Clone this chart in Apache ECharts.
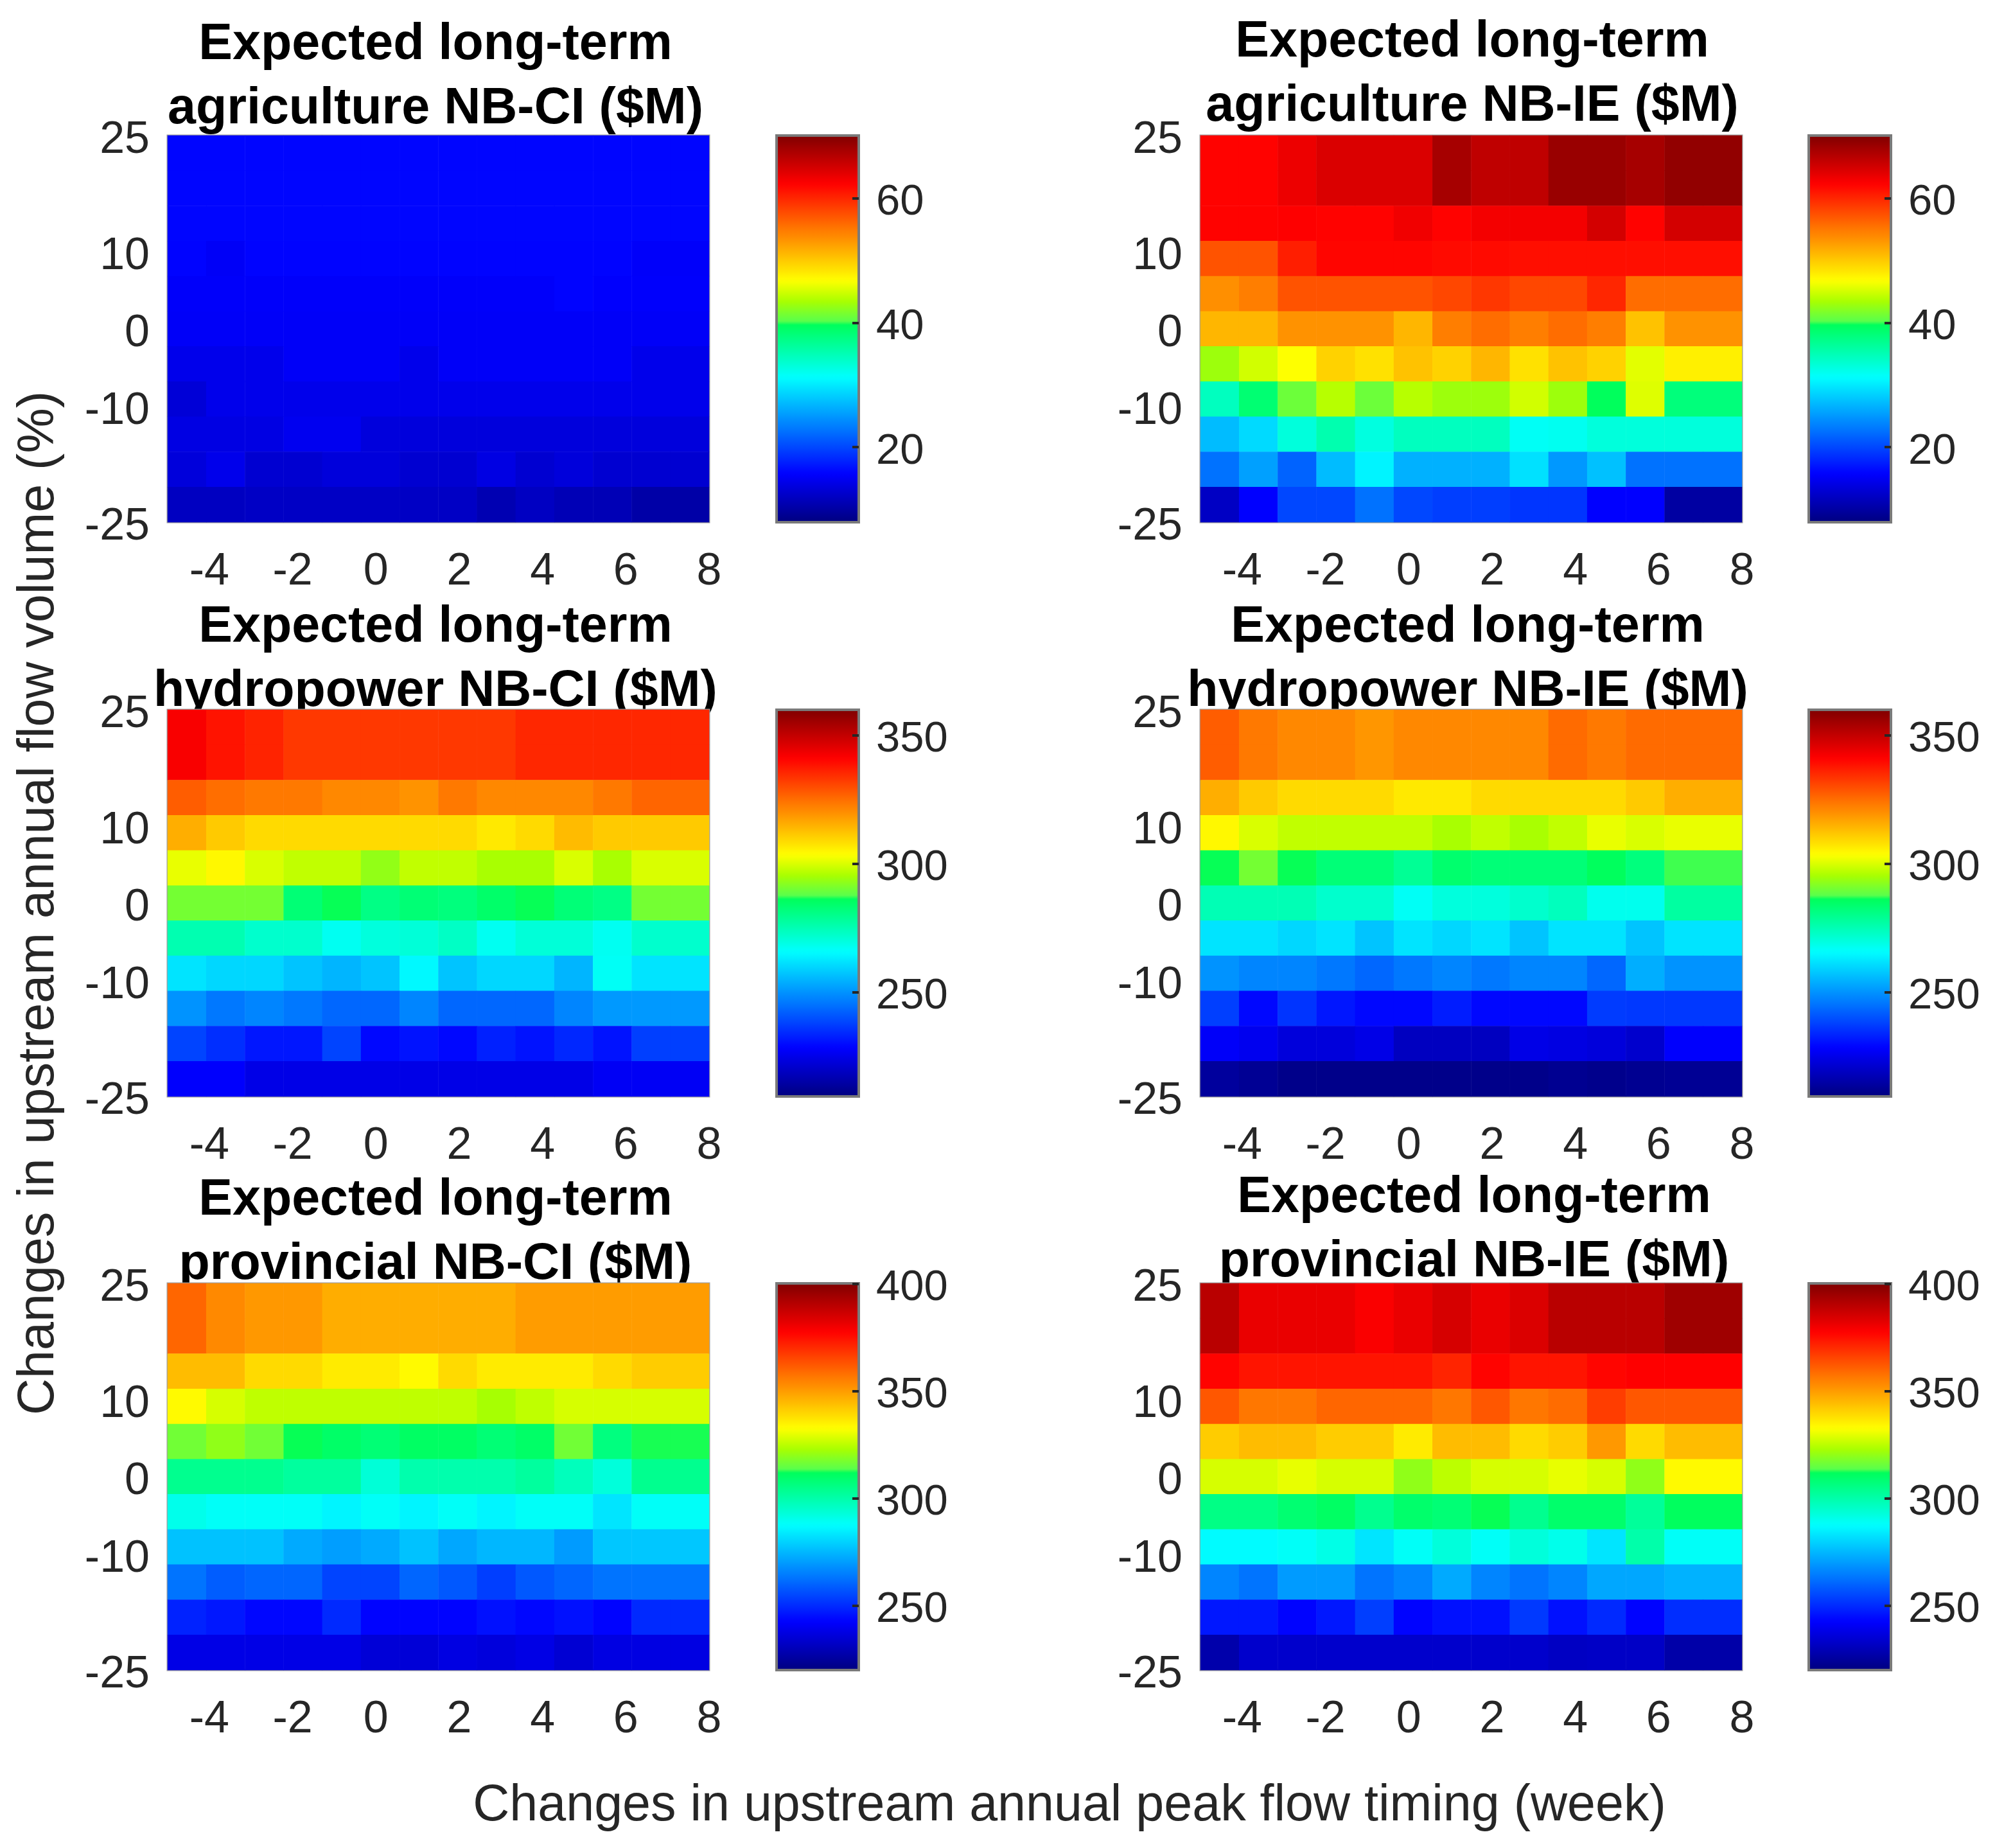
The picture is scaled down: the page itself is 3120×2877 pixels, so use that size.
<!DOCTYPE html>
<html>
<head>
<meta charset="utf-8">
<style>html,body{margin:0;padding:0;background:#fff}#c{width:3120px;height:2877px}</style>
<script src="https://cdn.jsdelivr.net/npm/echarts@6/dist/echarts.min.js"></script>
</head>
<body>
<div id="c"></div>
<script>
// Each matrix: rows from top (flow +25) to bottom (flow -25), columns from left to right.
const agricultureCI = [
[16,16,16,16,16,16,16,16,16,16,16,16,16],
[16,16,16,16,16,16,16,16,16,16,16,16,16],
[15.9,15.2,15.9,15.9,15.9,15.9,15.9,15.9,15.9,15.9,15.9,15.9,15.4],
[15.4,15.4,15.4,15.4,15.4,15.4,15.4,15.4,15.4,15.4,15.9,15.6,15.5],
[15.3,15.3,15.3,15.3,15.3,15.3,15.3,15.3,15.3,15.3,15.3,15.3,15.3],
[14.5,14.5,14.5,15.3,15.3,15.3,14.5,15.3,15.3,15.3,15.3,15.3,14.5],
[13.3,14.5,14.5,14.5,14.5,14.5,14.5,14.5,14.5,14.5,14.5,14.5,14.5],
[14,14,14,14.8,14.8,13.6,13.6,13.6,13.6,13.6,13.6,13.6,13.6],
[13.5,14.5,12.9,12.9,13.5,13.5,12.9,12.9,14,12.9,13.5,12.9,12.9],
[11.9,11.9,12.2,12.2,12.2,12.2,12.2,12.2,11,12,11.2,11.2,10.3]
];
const agricultureIE = [
[62.2,62.2,63.4,64.6,64.6,64.6,67.8,66.3,66.3,68.6,68.6,67.8,69],
[62.2,62.2,62.4,62.2,62.2,63.2,62.2,63,63,63,65,62.2,65],
[57.3,57.3,60.5,62,62,62,61.7,61.7,61.5,61.5,61.5,61.5,61.5],
[53.6,54.7,57.3,57.3,57.3,57.3,58,59,58,58,60,55.7,55.7],
[51.2,51.2,53.4,53.4,53.4,51.2,54.7,55.7,54.7,55.7,54.7,50.5,53.4],
[43,45,46.75,49.5,48.6,50.5,49.5,51.2,48.6,50.5,49.5,45.7,47.7],
[34.5,38.5,41,44,41,44,43,43,45,43,39.6,45.5,38],
[27.2,29,33,35.3,32.8,34.5,34.5,34.5,31.7,32,33,33,33],
[22.6,25.5,21.7,27.2,30.6,26.5,26.5,26.5,29.4,25,27.5,22.6,22.6],
[12.1,15.7,20,20,22.6,20,19.5,19.5,18.9,18.9,15.7,15.7,10]
];
const hydropowerCI = [
[342,338.4,336,333,333,333,333,333,333,335.4,335.4,335.4,335.4],
[327.5,325,323.4,323.4,321,321,319.5,323.4,321,321,321,323.4,326.4],
[315.5,311.3,309,309,309,309,309,309,306.8,309,313.6,311.3,311.3],
[301.5,304.6,300,297.8,297.8,293.3,297.8,297.8,295.5,295.5,300,295.5,300],
[290.3,290.3,290.3,283,287,281,283,282,284.5,287,282.7,281,290.3],
[275.5,275.5,272,272,267.5,270,270.7,273,267.5,270.7,270.7,267.5,272],
[262,260,260,257.2,255,257.2,265,257.2,260,260,255,267,262],
[250,246,248,246,243.5,243.5,248,243.5,243.5,243.5,248,251,251],
[238.3,235,231.6,231.6,238.3,229.3,231,229.3,233,231,234,231,237.5],
[228,228,224.8,224.8,224.8,224.8,224.8,224.8,224.8,224.8,224.8,226.8,226.8]
];
const hydropowerIE = [
[327.5,323.4,321,321,319,321,321,321,321,325.5,323.4,325.5,325.5],
[315.5,311.3,309,309,309,306.8,306.8,309,309,309,309,311.3,315.5],
[304.6,300,297.8,297.8,297.8,297.8,295.5,297.8,295.5,297.8,301.5,300,301.5],
[287,290.3,287,282.7,282.7,279,284,282.7,282.7,282.7,286,282,287.5],
[275,275,275,272,272,267,270,270,272,274,268,268,277.5],
[262,262,260,262,257.2,262,260,262,257.2,262,262,257.2,262],
[250,248,248,246,243.5,246,248,246,248,248,243.5,254,250],
[237.5,229.3,236,231.6,229.3,229.3,232.5,229.3,229.3,229.3,237,236.5,236.5],
[227.5,226,223,223,224.8,219,219,219,224.8,224,223,221,228],
[213.7,212.5,211,211,211,211,211,211,211,212,211.3,212,212.5]
];
const provincialCI = [
[359.6,353.3,350.6,350.6,347,347,347,347,347,350,350,350,350],
[344.3,344.3,339,339,336,336,333.5,339,336,336,336,339,341.6],
[333.5,328,325.4,325.4,325.4,325.4,325.4,325.4,322.7,325.4,328,328,328],
[316.4,320,316.4,312.8,310,308,310.8,310.8,308,310,316.4,306.5,313],
[304,304,304,301.8,301.8,293.5,299.5,299.5,299.5,301.8,297.4,292.8,304],
[290.5,288.5,288.5,288.5,285.8,288.5,285.8,288.5,285.8,288.5,288.5,283,288.5],
[276.8,276.8,276.8,272.5,270.5,272.5,276.8,272,274.8,274.8,270,277.7,277.7],
[263,258.8,260.5,260.5,254.5,254.5,260.5,258,253.4,258,260.5,263,263],
[248.5,246.5,243.5,243.5,249.8,243,243,243,245.3,243.5,245.3,243,249.8],
[238.2,238.2,238.2,238.2,238.2,235.5,235.5,237.4,236.3,238,234.8,237.4,237.4]
];
const provincialIE = [
[390,381.2,381.2,381.2,378.5,381.2,384.8,381.2,384,390,390,390,394.7],
[377,374,374,374,374,374,371.3,377,374,374,376.7,377.7,377.7],
[362.3,356.6,356.6,359.6,359.6,359.6,356.6,362.3,356.6,358.6,366.8,362.3,362.3],
[341.6,344.3,344.3,341.6,341.6,336,344.3,344.3,339,341.6,350.6,339,344.3],
[328,328,330,328,328,320,325,328,328,330,328,320,333.5],
[305.6,305.6,308.6,310.8,304,309.5,308,312.8,304,309.5,309.5,302.5,311.5],
[287,287,288.5,291,283,288.5,292.8,288.5,292.8,290.5,283,300,288.5],
[266,263,270,270,263,266,272.5,266,263,266,272,272,274],
[246.5,246.5,243,246.5,253.4,243,245.3,245.3,252.5,245.3,249.8,243,250.5],
[227.5,233.5,233.5,233.5,233.5,233.5,233.5,233.5,233.5,232,232.5,232.5,227]
];
const panelTitles = [
  'Expected long-term\nagriculture NB-CI ($M)','Expected long-term\nagriculture NB-IE ($M)',
  'Expected long-term\nhydropower NB-CI ($M)','Expected long-term\nhydropower NB-IE ($M)',
  'Expected long-term\nprovincial NB-CI ($M)','Expected long-term\nprovincial NB-IE ($M)'
];
const panelData = [agricultureCI,agricultureIE,hydropowerCI,hydropowerIE,provincialCI,provincialIE];
const colorRanges = [[7.94,70.1],[7.94,70.1],[209.5,360],[209.5,360],[220,400.1],[220,400.1]];
const colorbarTicks = [[20,40,60],[20,40,60],[250,300,350],[250,300,350],[250,300,350,400],[250,300,350,400]];
const xTickValues = [-4,-2,0,2,4,6,8];
const yTickValues = [-25,-10,0,10,25];
const xAxisName = 'Changes in upstream annual peak flow timing (week)';
const yAxisName = 'Changes in upstream annual flow volume (%)';
// Colormap anchors: fraction of the range and [r,g,b]; the reference has a sharp step at its centre.
const colorAnchors = [[0,[0,0,128]],[0.125,[0,0,255]],[0.375,[0,255,255]],[0.44,[0,255,175]],[0.5155,[0,255,85]],
  [0.517,[85,255,80]],[0.572,[170,255,0]],[0.625,[255,255,0]],[0.875,[255,0,0]],[1,[128,0,0]]];
function colorAt(f){
  for(let k=1;k<colorAnchors.length;k++){
    const [f0,c0]=colorAnchors[k-1],[f1,c1]=colorAnchors[k];
    if(f<=f1){const t=(f-f0)/(f1-f0);return 'rgb('+c0.map((v,j)=>Math.round(v+(c1[j]-v)*t)).join(',')+')';}
  }
  return 'rgb(128,0,0)';
}
const jetColors = Array.from({length:257},(_,i)=>colorAt(i/256));

// Layout
const lefts = [261,1869], tops = [211,1105,1998], pw = 843, ph = 602;
const cbLefts = [1209,2816], cbW = 128;
const titlePos = [[678,20],[2292,16],[678,927],[2285,927],[678,1819],[2295,1815]];
const tickColor = '#262626', tickSize = 70, cbSize = 67, font = '"Liberation Sans", Arial, sans-serif';
const shifted = (size,pad)=>({formatter:'{t|{value}}',rich:{t:{fontSize:size,fontFamily:font,color:tickColor,padding:[pad,0,0,0]}}});

const grid=[], xAxis=[], yAxis=[], series=[], visualMap=[], title=[];
const xCats = Array.from({length:14},(_,i)=>String(i));
const yCats = Array.from({length:11},(_,i)=>String(i));
panelData.forEach((m,i)=>{
  const col=i%2, row=Math.floor(i/2), L=lefts[col], T=tops[row];
  grid.push({left:L,top:T,width:pw,height:ph,show:true,borderColor:'#9c9c9c',borderWidth:3,backgroundColor:'transparent',z:1});
  xAxis.push({type:'category',gridIndex:i,data:xCats,show:false,position:'top'});
  xAxis.push({type:'value',gridIndex:i,min:-5,max:8,position:'bottom',
    axisLine:{show:false,onZero:false},axisTick:{show:false},splitLine:{show:false},
    axisLabel:{customValues:xTickValues,color:tickColor,fontSize:tickSize,fontFamily:font,margin:43,hideOverlap:false}});
  yAxis.push({type:'category',gridIndex:i,data:yCats,show:false,position:'right'});
  const ya={type:'value',gridIndex:i,min:-25,max:25,position:'left',
    axisLine:{show:false,onZero:false},axisTick:{show:false},splitLine:{show:false},
    axisLabel:Object.assign({customValues:yTickValues,color:tickColor,fontSize:tickSize,fontFamily:font,margin:28,hideOverlap:false},shifted(tickSize,16))};
  if(i===2){Object.assign(ya,{name:yAxisName,nameLocation:'middle',nameGap:160,nameRotate:90,
    nameTextStyle:{color:tickColor,fontSize:79,fontFamily:font}});}
  yAxis.push(ya);
  const data=[];
  m.forEach((rowVals,r)=>{
    const ys = r===0 ? [10,9] : [9-r];
    rowVals.forEach((v,c)=>{
      const xs = c===12 ? [12,13] : [c];
      ys.forEach(y=>xs.forEach(x=>data.push([x,y,v])));
    });
  });
  series.push({type:'heatmap',xAxisIndex:2*i,yAxisIndex:2*i,data,z:2,progressive:0,
    itemStyle:{borderWidth:0},emphasis:{disabled:true},silent:true});
  visualMap.push({type:'continuous',seriesIndex:i,dimension:2,min:colorRanges[i][0],max:colorRanges[i][1],
    left:cbLefts[col],top:T,itemWidth:cbW,itemHeight:ph,padding:0,text:null,calculable:false,hoverLink:false,
    realtime:false,orient:'vertical',inRange:{color:jetColors},z:0,showLabel:false});
  title.push({text:panelTitles[i],left:titlePos[i][0],top:titlePos[i][1],textAlign:'center',z:0,padding:0,
    textStyle:{color:'#000',fontSize:79,fontWeight:'bold',fontFamily:font,lineHeight:100}});
});
panelData.forEach((m,i)=>{
  const col=i%2, row=Math.floor(i/2), T=tops[row];
  const g=6+i;
  grid.push({left:cbLefts[col],top:T,width:cbW,height:ph,show:true,borderColor:'#7a7a7a',borderWidth:4,backgroundColor:'transparent',z:3});
  xAxis.push({type:'value',gridIndex:g,min:0,max:1,show:false});
  yAxis.push({type:'value',gridIndex:g,min:colorRanges[i][0],max:colorRanges[i][1],position:'right',z:6,
    axisLine:{show:false,onZero:false},splitLine:{show:false},
    axisTick:{show:true,inside:true,length:10,customValues:colorbarTicks[i],lineStyle:{color:'#262626',width:4}},
    axisLabel:Object.assign({customValues:colorbarTicks[i],color:tickColor,fontSize:cbSize,fontFamily:font,margin:27,hideOverlap:false},shifted(cbSize,14))});
});
title.push({text:xAxisName,left:1665,top:2772,textAlign:'center',padding:0,
  textStyle:{color:tickColor,fontSize:79,fontWeight:'normal',fontFamily:font,lineHeight:80}});

const chart=echarts.init(document.getElementById('c'),null,{renderer:'canvas'});
chart.setOption({animation:false,backgroundColor:'#fff',title,grid,xAxis,yAxis,visualMap,series});
</script>
</body>
</html>
